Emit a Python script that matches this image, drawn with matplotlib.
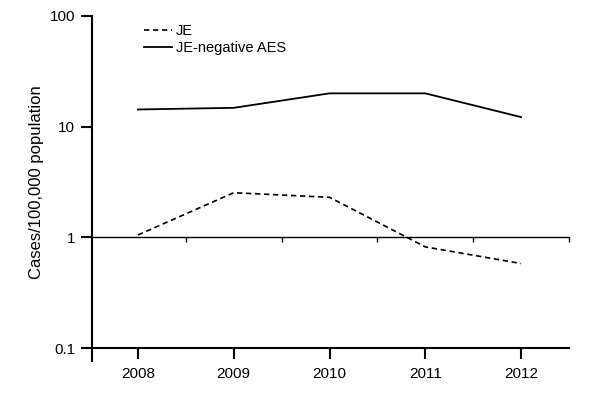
import matplotlib
matplotlib.use("Agg")
import matplotlib.pyplot as plt

plt.rcParams['font.family'] = ['Liberation Sans', 'DejaVu Sans']

# data (cases per 100,000 population)
years = [2008, 2009, 2010, 2011, 2012]
je = [1.05, 2.53, 2.30, 0.82, 0.58]
aes = [14.3, 14.8, 20.0, 20.0, 12.2]
y_ticks = [0.1, 1, 10, 100]
y_tick_labels = ['0.1', '1', '10', '100']
half_years = [2008.5, 2009.5, 2010.5, 2011.5, 2012.5]

fig = plt.figure(figsize=(6, 3.99), dpi=100)
ax = fig.add_axes([0.1533, 0.1278, 0.795, 0.8321])

ax.plot(years, je, color='black', linestyle=(0, (3.2, 2.2)), linewidth=1.2, label='JE')
ax.plot(years, aes, color='black', linestyle='-', linewidth=1.3, label='JE-negative AES')

ax.set_yscale('log')
ax.set_ylim(0.1, 100)
ax.set_xlim(2007.52, 2012.5)
ax.set_yticks(y_ticks)
ax.set_yticklabels(y_tick_labels)
ax.minorticks_off()
ax.set_xticks(years)
ax.set_xticks([2007.52], minor=True)
ax.tick_params(axis='both', which='major', direction='out', length=8, width=1.5,
               labelsize=11)
ax.tick_params(axis='y', which='major', pad=4)
ax.tick_params(axis='x', which='major', pad=6)
ax.tick_params(axis='x', which='minor', direction='out', length=10, width=1.5)
ax.set_ylabel('Cases/100,000 population', fontsize=12, labelpad=4)

for side in ['top', 'right']:
    ax.spines[side].set_visible(False)
for side in ['left', 'bottom']:
    ax.spines[side].set_linewidth(1.5)

# secondary axis line at y = 1 with half-year ticks
ax2 = ax.twiny()
ax2.set_xlim(ax.get_xlim())
for side in ['top', 'right', 'left']:
    ax2.spines[side].set_visible(False)
ax2.spines['bottom'].set_position(('data', 1))
ax2.spines['bottom'].set_linewidth(1.0)
ax2.xaxis.set_ticks_position('bottom')
ax2.set_xticks(half_years)
ax2.set_xticklabels([])
ax2.tick_params(axis='x', direction='out', length=3.5, width=1.0)

ax.legend(loc='upper left', bbox_to_anchor=(0.092, 1.0), frameon=False,
          fontsize=10.5, handlelength=1.9, handletextpad=0.3, labelspacing=0.2,
          borderaxespad=0.15)

fig.savefig('out.png', dpi=100)
